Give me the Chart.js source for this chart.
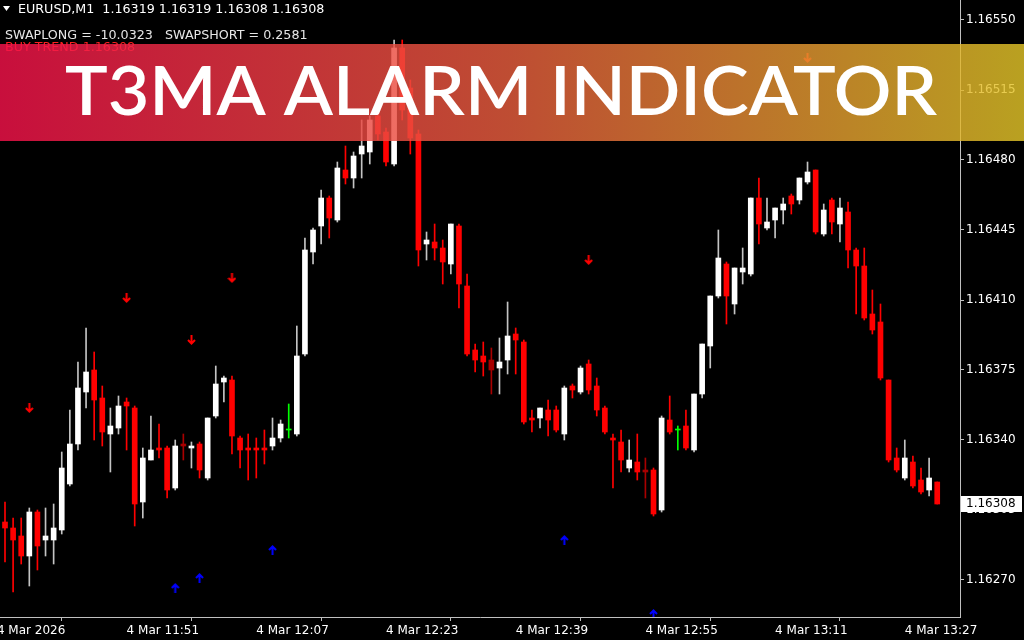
<!DOCTYPE html>
<html><head><meta charset="utf-8">
<script src="https://cdn.jsdelivr.net/npm/chart.js@4.4.1/dist/chart.umd.min.js"></script>
<style>html,body{margin:0;padding:0;background:#000;overflow:hidden}canvas{display:block}</style>
</head><body>
<canvas id="c" width="1024" height="640"></canvas>
<script>
// ---- DATA (EURUSD M1, bars from 11:36 to 13:31) ----
const opens = [
1.16299,1.16296,1.16292,1.16282,1.16304,1.16290,1.16290,1.16295,1.16318,1.16338,
1.16364,1.16375,1.16361,1.16343,1.16346,1.16359,1.16356,1.16309,1.16330,1.16336,
1.16336,1.16316,1.16338,1.16336,1.16338,1.16321,1.16352,1.16369,1.16370,1.16341,
1.16336,1.16336,1.16336,1.16337,1.16341,1.16345,1.16343,1.16383,1.16434,1.16447,
1.16461,1.16450,1.16475,1.16471,1.16483,1.16484,1.16502,1.16494,1.16478,1.16536,
1.16516,1.16493,1.16438,1.16439,1.16436,1.16428,1.16447,1.16417,1.16385,1.16382,
1.16380,1.16376,1.16380,1.16393,1.16389,1.16351,1.16351,1.16355,1.16355,1.16343,
1.16367,1.16364,1.16378,1.16367,1.16356,1.16341,1.16339,1.16326,1.16329,1.16325,
1.16325,1.16305,1.16350,1.16345,1.16347,1.16335,1.16363,1.16387,1.16412,1.16428,
1.16408,1.16424,1.16423,1.16461,1.16446,1.16450,1.16455,1.16462,1.16460,1.16469,
1.16475,1.16443,1.16460,1.16448,1.16454,1.16435,1.16427,1.16403,1.16399,1.16370,
1.16331,1.16321,1.16329,1.16320,1.16315,1.16319];
const highs = [
1.16309,1.16301,1.16301,1.16306,1.16305,1.16306,1.16308,1.16334,1.16355,1.16379,
1.16396,1.16384,1.16367,1.16356,1.16362,1.16361,1.16357,1.16336,1.16352,1.16348,
1.16337,1.16340,1.16343,1.16339,1.16339,1.16351,1.16377,1.16372,1.16372,1.16342,
1.16343,1.16341,1.16345,1.16351,1.16350,1.16358,1.16397,1.16441,1.16446,1.16465,
1.16462,1.16479,1.16487,1.16484,1.16500,1.16502,1.16506,1.16496,1.16540,1.16540,
1.16520,1.16495,1.16444,1.16448,1.16440,1.16448,1.16448,1.16423,1.16388,1.16389,
1.16386,1.16391,1.16409,1.16396,1.16390,1.16355,1.16356,1.16360,1.16357,1.16367,
1.16368,1.16377,1.16380,1.16371,1.16357,1.16343,1.16345,1.16340,1.16343,1.16331,
1.16326,1.16352,1.16362,1.16347,1.16355,1.16363,1.16388,1.16412,1.16445,1.16429,
1.16426,1.16436,1.16461,1.16471,1.16461,1.16456,1.16461,1.16463,1.16471,1.16479,
1.16475,1.16458,1.16461,1.16461,1.16459,1.16436,1.16436,1.16415,1.16408,1.16370,
1.16336,1.16340,1.16332,1.16326,1.16331,1.16319];
const lows = [
1.16279,1.16264,1.16278,1.16267,1.16275,1.16282,1.16278,1.16293,1.16317,1.16335,
1.16356,1.16340,1.16337,1.16324,1.16343,1.16335,1.16297,1.16301,1.16330,1.16331,
1.16311,1.16315,1.16330,1.16326,1.16321,1.16320,1.16351,1.16359,1.16333,1.16326,
1.16320,1.16321,1.16328,1.16335,1.16339,1.16341,1.16342,1.16382,1.16428,1.16438,
1.16441,1.16449,1.16468,1.16466,1.16471,1.16478,1.16490,1.16477,1.16477,1.16500,
1.16483,1.16427,1.16430,1.16430,1.16418,1.16423,1.16406,1.16382,1.16374,1.16372,
1.16363,1.16363,1.16373,1.16373,1.16348,1.16344,1.16346,1.16342,1.16344,1.16340,
1.16361,1.16363,1.16363,1.16352,1.16343,1.16316,1.16324,1.16324,1.16320,1.16311,
1.16302,1.16304,1.16343,1.16335,1.16335,1.16334,1.16361,1.16376,1.16411,1.16398,
1.16403,1.16418,1.16422,1.16438,1.16445,1.16441,1.16448,1.16453,1.16458,1.16468,
1.16443,1.16442,1.16443,1.16439,1.16426,1.16403,1.16400,1.16393,1.16370,1.16329,
1.16324,1.16320,1.16316,1.16313,1.16312,1.16308];
const closes = [
1.16296,1.16290,1.16282,1.16304,1.16287,1.16292,1.16296,1.16326,1.16338,1.16366,
1.16374,1.16360,1.16344,1.16347,1.16357,1.16357,1.16308,1.16331,1.16335,1.16335,
1.16315,1.16337,1.16337,1.16337,1.16325,1.16351,1.16368,1.16371,1.16342,1.16335,
1.16335,1.16335,1.16335,1.16341,1.16348,1.16345,1.16382,1.16435,1.16445,1.16461,
1.16451,1.16476,1.16471,1.16482,1.16487,1.16500,1.16493,1.16479,1.16536,1.16505,
1.16491,1.16435,1.16440,1.16436,1.16429,1.16448,1.16418,1.16383,1.16380,1.16379,
1.16375,1.16379,1.16392,1.16390,1.16349,1.16350,1.16356,1.16350,1.16345,1.16366,
1.16365,1.16376,1.16365,1.16355,1.16344,1.16340,1.16330,1.16330,1.16324,1.16324,
1.16303,1.16351,1.16344,1.16345,1.16336,1.16363,1.16388,1.16412,1.16431,1.16412,
1.16426,1.16426,1.16461,1.16448,1.16449,1.16456,1.16458,1.16458,1.16471,1.16474,
1.16444,1.16455,1.16449,1.16456,1.16435,1.16427,1.16401,1.16395,1.16371,1.16330,
1.16325,1.16331,1.16317,1.16314,1.16321,1.16308];

// T3MA signal arrows (bar index, price level)
const sellBars   = [3, 15, 23, 28, 72, 99];
const sellLevels = [1.16356, 1.16411, 1.16390, 1.16421, 1.16430, 1.16531];
const buyBars    = [21, 24, 33, 69, 80];
const buyLevels  = [1.16266, 1.16271, 1.16285, 1.16290, 1.16253];

// axis ticks
const timeTickBars = [-1, 15, 31, 47, 63, 79, 95, 111];
const timeTickLabels = ["4 Mar 2026","4 Mar 11:51","4 Mar 12:07","4 Mar 12:23","4 Mar 12:39","4 Mar 12:55","4 Mar 13:11","4 Mar 13:27"];
const priceTicks = [1.16550, 1.16515, 1.16480, 1.16445, 1.16410, 1.16375, 1.16340, 1.16305, 1.16270];

// ---- STYLE ----
const dimBars = [22, 60, 79];
const RED = '#ff0000', DIM = '#a80000', WHITE = '#ffffff', WICK_UP = '#c4c4c4', GREEN = '#00ff00';
const AXIS = '#c0c0c0';
const FONT = 'DejaVu Sans';

const idx = opens.map((_, i) => i);
function kind(i){ if (opens[i] === closes[i]) return 'doji'; return closes[i] > opens[i] ? 'up' : 'down'; }
function bodyCol(i){ const k = kind(i); if (k==='doji') return GREEN; if (k==='up') return WHITE; return dimBars.includes(i) ? DIM : RED; }
function wickCol(i){ const k = kind(i); if (k==='doji') return GREEN; if (k==='up') return WICK_UP; return dimBars.includes(i) ? DIM : RED; }

function arrowCanvas(color, down){
  const c = document.createElement('canvas'); c.width = 9; c.height = 10;
  const g = c.getContext('2d'); g.strokeStyle = color; g.lineWidth = 2;
  g.beginPath();
  if (down){ g.moveTo(4.5,0); g.lineTo(4.5,8.5); g.moveTo(1,5); g.lineTo(4.5,8.5); g.lineTo(8,5); }
  else { g.moveTo(4.5,10); g.lineTo(4.5,1.5); g.moveTo(1,5); g.lineTo(4.5,1.5); g.lineTo(8,5); }
  g.stroke(); return c;
}

const overlay = {
  id: 'overlay',
  afterDraw(chart){
    const ctx = chart.ctx, y = chart.scales.y;
    ctx.save();
    ctx.font = '12.7px ' + FONT; ctx.textBaseline = 'middle'; ctx.textAlign = 'left';
    ctx.fillStyle = '#ff2020';
    ctx.fillText('BUY TREND 1.16308', 5, 48);
    const last = closes[closes.length-1];
    const py = Math.round(y.getPixelForValue(last));
    ctx.fillStyle = '#ffffff'; ctx.fillRect(961, py-8, 61, 16);
    ctx.font = '12px ' + FONT; ctx.fillStyle = '#000000';
    ctx.fillText(last.toFixed(5), 966, py);
    const grad = ctx.createLinearGradient(0,0,1024,0);
    grad.addColorStop(0, 'rgb(244,18,74)');
    grad.addColorStop(0.5, 'rgb(232,94,62)');
    grad.addColorStop(1, 'rgb(226,196,40)');
    ctx.globalAlpha = 0.82; ctx.fillStyle = grad; ctx.fillRect(0, 44, 1024, 97);
    ctx.globalAlpha = 1;
    const title = 'T3MA ALARM INDICATOR';
    ctx.font = '600 68px Lato'; ctx.textBaseline = 'alphabetic'; ctx.fillStyle = '#ffffff';
    const w = ctx.measureText(title).width;
    ctx.save(); ctx.translate(65, 115); ctx.scale(872 / w, 1); ctx.fillText(title, 0, 0); ctx.restore();
    ctx.fillStyle = '#ffffff';
    ctx.beginPath(); ctx.moveTo(3,6); ctx.lineTo(10,6); ctx.lineTo(6.5,11); ctx.closePath(); ctx.fill();
    ctx.font = '12.7px ' + FONT; ctx.textBaseline = 'middle';
    ctx.fillText('EURUSD,M1  1.16319 1.16319 1.16308 1.16308', 18, 10);
    ctx.fillStyle = '#e6e6e6';
    ctx.fillText('SWAPLONG = -10.0323   SWAPSHORT = 0.2581', 5, 36);
    ctx.restore();
  }
};

const bg = { id:'bg', beforeDraw(chart){ const c = chart.ctx; c.save(); c.fillStyle = '#000'; c.fillRect(0,0,chart.width,chart.height); c.restore(); } };

new Chart(document.getElementById('c'), {
  type: 'bar',
  data: {
    datasets: [
      { label: 'wick', data: idx.map(i => ({x: i, y: [lows[i], highs[i]]})),
        backgroundColor: idx.map(wickCol), barThickness: 1, grouped: false, order: 3 },
      { label: 'body', data: idx.map(i => ({x: i, y: [opens[i], closes[i]]})),
        backgroundColor: idx.map(bodyCol), barThickness: 5, minBarLength: 1, grouped: false, order: 2 },
      { type: 'scatter', label: 'sell', data: sellBars.map((b, k) => ({x: b, y: sellLevels[k]})),
        pointStyle: arrowCanvas('#ff0000', true), pointRadius: 5, order: 1 },
      { type: 'scatter', label: 'buy', data: buyBars.map((b, k) => ({x: b, y: buyLevels[k]})),
        pointStyle: arrowCanvas('#0000ff', false), pointRadius: 5, order: 1 }
    ]
  },
  options: {
    responsive: false, animation: false, devicePixelRatio: 1,
    layout: { padding: 0, autoPadding: false },
    plugins: { legend: { display: false }, tooltip: { enabled: false } },
    scales: {
      x: {
        type: 'linear', min: -0.617, max: 117.81, offset: false, bounds: 'data',
        afterBuildTicks: s => { s.ticks = timeTickBars.map(v => ({value: v})); },
        afterFit: s => { s.height = 23; s.paddingLeft = 0; s.paddingRight = 0; s.paddingTop = 0; s.paddingBottom = 0; },
        ticks: { autoSkip: false, maxRotation: 0, minRotation: 0, align: 'start', padding: 3,
                 color: '#ffffff', font: { family: FONT, size: 12 },
                 callback: (v, i) => timeTickLabels[i] },
        grid: { drawOnChartArea: false, drawTicks: true, tickLength: 4, color: AXIS },
        border: { color: AXIS, width: 1 }
      },
      y: {
        type: 'linear', position: 'right', min: 1.162515, max: 1.16560, bounds: 'data',
        afterBuildTicks: s => { s.ticks = priceTicks.map(v => ({value: v})); },
        afterFit: s => { s.width = 64; s.paddingLeft = 0; s.paddingRight = 0; s.paddingTop = 0; s.paddingBottom = 0; },
        ticks: { autoSkip: false, padding: 2, color: '#ffffff', font: { family: FONT, size: 12 },
                 callback: v => Number(v).toFixed(5) },
        grid: { drawOnChartArea: false, drawTicks: true, tickLength: 4, color: AXIS },
        border: { color: AXIS, width: 1 }
      }
    }
  },
  plugins: [bg, overlay]
});
</script>
</body></html>
